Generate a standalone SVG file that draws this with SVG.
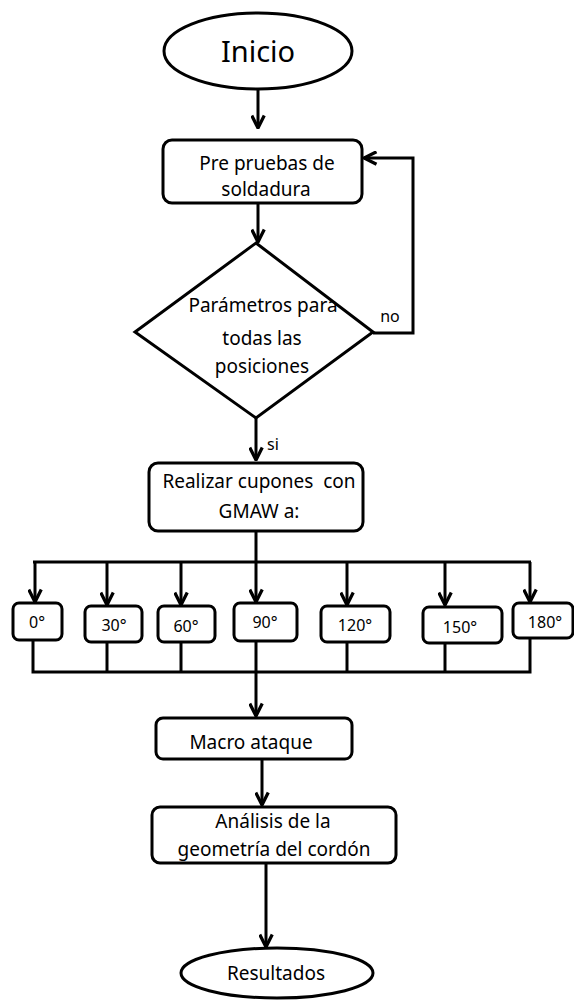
<svg xmlns="http://www.w3.org/2000/svg" width="574" height="1000" viewBox="0 0 574 1000">
<style>
.s{fill:#fff;stroke:#000;stroke-width:3}
.t{font-family:"Noto Sans","Liberation Sans",sans-serif;font-size:19px;fill:#000;text-anchor:middle}
.d{font-size:16px}
.c{fill:none;stroke:#000;stroke-width:3}
</style>
<defs>
<marker id="a" viewBox="0 0 12 12" refX="11" refY="6" markerWidth="15" markerHeight="15" markerUnits="userSpaceOnUse" orient="auto">
<path d="M1,1 L11,6 L1,11" fill="none" stroke="#000" stroke-width="2.6"/>
</marker>
</defs>
<rect width="574" height="1000" fill="#fff"/>
<g id="connectors">
<line class="c" x1="258" y1="90" x2="258" y2="128" marker-end="url(#a)"/>
<line class="c" x1="258" y1="203" x2="258" y2="242" marker-end="url(#a)"/>
<polyline class="c" points="373,333 413,333 413,158 364,158" marker-end="url(#a)"/>
<line class="c" x1="256" y1="418" x2="256" y2="460" marker-end="url(#a)"/>
<line class="c" x1="256" y1="531" x2="256" y2="562"/>
<line class="c" x1="33" y1="562" x2="531" y2="562"/>
<line class="c" x1="35" y1="562" x2="35" y2="602" marker-end="url(#a)"/>
<line class="c" x1="107" y1="562" x2="107" y2="605" marker-end="url(#a)"/>
<line class="c" x1="181" y1="562" x2="181" y2="605" marker-end="url(#a)"/>
<line class="c" x1="256" y1="562" x2="256" y2="602" marker-end="url(#a)"/>
<line class="c" x1="347" y1="562" x2="347" y2="605" marker-end="url(#a)"/>
<line class="c" x1="445" y1="562" x2="445" y2="605" marker-end="url(#a)"/>
<line class="c" x1="530" y1="562" x2="530" y2="602" marker-end="url(#a)"/>
<polyline class="c" points="33,640 33,672 530,672 530,638"/>
<line class="c" x1="107" y1="642" x2="107" y2="672"/>
<line class="c" x1="181" y1="642" x2="181" y2="672"/>
<line class="c" x1="256" y1="641" x2="256" y2="672"/>
<line class="c" x1="347" y1="642" x2="347" y2="672"/>
<line class="c" x1="445" y1="643" x2="445" y2="672"/>
<line class="c" x1="256" y1="672" x2="256" y2="716" marker-end="url(#a)"/>
<line class="c" x1="262" y1="759" x2="262" y2="805" marker-end="url(#a)"/>
<line class="c" x1="266" y1="863" x2="266" y2="947" marker-end="url(#a)"/>
</g>
<g id="inicio">
<ellipse class="s" cx="258" cy="51" rx="94" ry="38"/>
<text class="t" x="258" y="62" style="font-size:29px">Inicio</text>
</g>
<g id="pre">
<rect class="s" x="163" y="140" width="199" height="63" rx="9"/>
<text class="t" x="267" y="170">Pre pruebas de</text>
<text class="t" x="266" y="196">soldadura</text>
</g>
<g id="decision">
<polygon class="s" points="256,243 373,332 256,418 135,332"/>
<text class="t" x="263" y="312">Parámetros para</text>
<text class="t" x="262" y="345">todas las</text>
<text class="t" x="262" y="373">posiciones</text>
</g>
<text class="t" x="390" y="322" style="font-size:16px">no</text>
<text class="t" x="273" y="450" style="font-size:16px">si</text>
<g id="realizar">
<rect class="s" x="149" y="463" width="214" height="68" rx="9"/>
<text class="t" x="259" y="488" xml:space="preserve">Realizar cupones  con</text>
<text class="t" x="259" y="518">GMAW a:</text>
</g>
<g id="d0">
<rect class="s" x="13" y="603" width="49" height="37" rx="6"/>
<text class="t d" x="37" y="628">0°</text>
</g>
<g id="d30">
<rect class="s" x="85" y="606" width="57" height="36" rx="6"/>
<text class="t d" x="114" y="631">30°</text>
</g>
<g id="d60">
<rect class="s" x="158" y="606" width="57" height="36" rx="6"/>
<text class="t d" x="186" y="632">60°</text>
</g>
<g id="d90">
<rect class="s" x="234" y="603" width="63" height="38" rx="6"/>
<text class="t d" x="265" y="628">90°</text>
</g>
<g id="d120">
<rect class="s" x="321" y="606" width="69" height="36" rx="6"/>
<text class="t d" x="355" y="631">120°</text>
</g>
<g id="d150">
<rect class="s" x="423" y="607" width="79" height="36" rx="6"/>
<text class="t d" x="460" y="633">150°</text>
</g>
<g id="d180">
<rect class="s" x="513" y="603" width="60" height="35" rx="6"/>
<text class="t d" x="545" y="628">180°</text>
</g>
<g id="macro">
<rect class="s" x="156" y="718" width="196" height="41" rx="7"/>
<text class="t" x="251" y="749">Macro ataque</text>
</g>
<g id="analisis">
<rect class="s" x="152" y="807" width="244" height="56" rx="8"/>
<text class="t" x="273" y="828">Análisis de la</text>
<text class="t" x="274" y="856">geometría del cordón</text>
</g>
<g id="resultados">
<ellipse class="s" cx="277" cy="973" rx="96" ry="25"/>
<text class="t" x="276" y="980">Resultados</text>
</g>
</svg>
